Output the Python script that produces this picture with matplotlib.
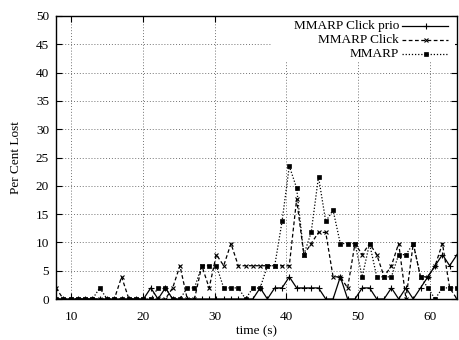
import matplotlib
matplotlib.use("Agg")
import matplotlib.pyplot as plt
from matplotlib.patches import Rectangle

plt.rcParams['font.family'] = ['Liberation Serif', 'DejaVu Serif']
plt.rcParams['font.size'] = 9.5

# sample times (s)
times = [7.90, 8.92, 9.93, 10.95, 11.96, 12.98, 14.00, 15.01, 16.03, 17.04,
         18.06, 19.08, 20.09, 21.11, 22.12, 23.14, 24.16, 25.17, 26.19, 27.20,
         28.22, 29.24, 30.25, 31.27, 32.28, 33.30, 34.32, 35.33, 36.35, 37.36,
         38.38, 39.40, 40.41, 41.43, 42.44, 43.46, 44.48, 45.49, 46.51, 47.52,
         48.54, 49.56, 50.57, 51.59, 52.60, 53.62, 54.64, 55.65, 56.67, 57.68,
         58.70, 59.72, 60.73, 61.75, 62.76, 63.78]

# per cent lost
click_prio = [0, 0, 0, 0, 0, 0, 0, 0, 0, 0,
              0, 0, 0, 1.96, 0, 1.96, 0, 0, 0, 0,
              0, 0, 0, 0, 0, 0, 0, 0, 1.96, 0,
              1.96, 1.96, 3.92, 1.96, 1.96, 1.96, 1.96, 0, 0, 3.92,
              0, 0, 1.96, 1.96, 0, 0, 1.96, 0, 1.96, 0,
              1.96, 3.92, 5.88, 7.84, 5.88, 7.84]
click = [1.96, 0, 0, 0, 0, 0, 0, 0, 0, 3.92,
         0, 0, 0, 0, 0, 0, 1.96, 5.88, 0, 0,
         5.88, 1.96, 7.84, 5.88, 9.8, 5.88, 5.88, 5.88, 5.88, 5.88,
         5.88, 5.88, 5.88, 17.6, 7.84, 9.8, 11.76, 11.76, 3.92, 3.92,
         1.96, 9.8, 7.84, 9.8, 7.84, 3.92, 5.88, 9.8, 0, 9.8,
         3.92, 3.92, 5.88, 9.8, 1.96, 0]
mmarp = [0, 0, 0, 0, 0, 0, 1.96, 0, 0, 0,
         0, 0, 0, 0, 1.96, 1.96, 0, 0, 1.96, 1.96,
         5.88, 5.88, 5.88, 1.96, 1.96, 1.96, 0, 1.96, 1.96, 5.88,
         5.88, 13.7, 23.5, 19.6, 7.84, 11.76, 21.6, 13.7, 15.7, 9.8,
         9.8, 9.8, 3.92, 9.8, 3.92, 3.92, 3.92, 7.84, 7.84, 9.8,
         3.92, 1.96, 0, 1.96, 1.96, 1.96]

labels = ['MMARP Click prio', 'MMARP Click', 'MMARP']

fig = plt.figure(figsize=(4.59, 3.40), dpi=100)
ax = fig.add_axes([56/459, 1 - 299/340, 401/459, 283/340])

styles = [
    dict(ls='-', marker='+', ms=5, mew=0.8),
    dict(ls=(0, (3, 2)), marker='x', ms=3.5, mew=0.8),
    dict(ls=(0, (1, 1.5)), marker='s', ms=2.8, mew=0.5),
]
series = [click_prio, click, mmarp]
for vals, st in zip(series, styles):
    ax.plot(times, vals, color='black', lw=0.9, clip_on=True, **st)

ax.set_xlim(times[0], times[-1])
ax.set_ylim(0, 50)
ax.set_xticks([10, 20, 30, 40, 50, 60])
ax.set_yticks(range(0, 51, 5))
ax.set_axisbelow(True)
ax.grid(True, ls=(0, (1, 2)), color='0.45', lw=0.7)
ax.tick_params(direction='in', top=True, right=True, length=4, width=0.8, pad=5)
ax.tick_params(axis='x', pad=9)
for sp in ax.spines.values():
    sp.set_linewidth(1.0)

ax.set_xlabel('time (s)', labelpad=1)
ax.set_ylabel('Per Cent Lost', labelpad=10)

# gnuplot-style key, text right-aligned before the sample
ax.add_patch(Rectangle(((272 - 56) / 401, (299 - 61) / 283), (455 - 272) / 401, 61 / 283,
                       transform=ax.transAxes, facecolor='white', edgecolor='none', zorder=1))
key_y = [26, 40, 54]
for lab, st, py in zip(labels, styles, key_y):
    yf = (299 - py) / 283
    ax.text((399 - 56) / 401, yf, lab, ha='right', va='center', transform=ax.transAxes, zorder=3)
    ax.plot([(402 - 56) / 401, (448 - 56) / 401], [yf, yf], color='black', lw=0.9,
            ls=st['ls'], transform=ax.transAxes, zorder=3, clip_on=False)
    ax.plot([(426 - 56) / 401], [yf], color='black', marker=st['marker'], ms=st['ms'],
            mew=st['mew'], transform=ax.transAxes, zorder=3, clip_on=False)

fig.savefig('out.png', dpi=100)
